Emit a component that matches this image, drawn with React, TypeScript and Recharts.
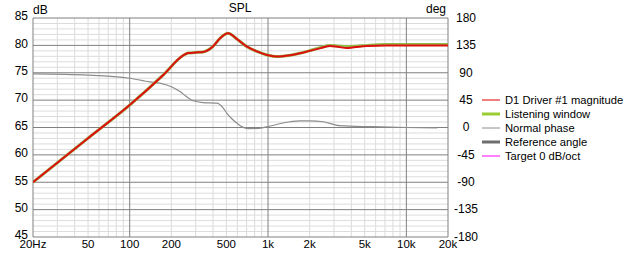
import { LineChart, Line, XAxis, YAxis, ReferenceLine } from "recharts";

const FONT = "'Liberation Sans', Arial, sans-serif";

// frequency axis
const freqTicks = [20, 50, 100, 200, 500, 1000, 2000, 5000, 10000, 20000];
const freqLabels = ["20Hz", "50", "100", "200", "500", "1k", "2k", "5k", "10k", "20k"];
const freqMajor = [20, 100, 1000, 10000, 20000];
const freqMinor = [
  30, 40, 50, 60, 70, 80, 90,
  200, 300, 400, 500, 600, 700, 800, 900,
  2000, 3000, 4000, 5000, 6000, 7000, 8000, 9000,
];

// level / phase axes
const dbTicks = [45, 50, 55, 60, 65, 70, 75, 80, 85];
const dbMinor = [
  46, 47, 48, 49, 51, 52, 53, 54, 56, 57, 58, 59, 61, 62, 63, 64, 66, 67, 68, 69,
  71, 72, 73, 74, 76, 77, 78, 79, 81, 82, 83, 84,
];
const degTicks = [-180, -135, -90, -45, 0, 45, 90, 135, 180];

// D1 Driver #1 magnitude
const magFreq = [20, 50, 100, 175, 245, 265, 300, 340, 400, 450, 514, 600, 700, 830, 1000, 1150, 1450, 1700, 2000, 2400, 2800, 3200, 3700, 4300, 5200, 7000, 10000, 20000];
const magDb = [55, 63.05, 69.1, 74.6, 78.2, 78.6, 78.7, 78.8, 79.8, 81.3, 82.2, 81.1, 79.8, 78.9, 78.2, 77.95, 78.2, 78.55, 79, 79.5, 79.9, 79.75, 79.5, 79.7, 79.9, 80, 80, 80];

// Listening window
const lwFreq = [20, 50, 100, 175, 245, 265, 300, 340, 400, 450, 514, 600, 700, 830, 1000, 1150, 1450, 1700, 2000, 2400, 2800, 3200, 3700, 4300, 5200, 7000, 10000, 20000];
const lwDb = [55, 63.05, 69.1, 74.6, 78.2, 78.6, 78.7, 78.8, 79.8, 81.3, 82.2, 81.1, 79.8, 78.9, 78.2, 77.95, 78.2, 78.55, 79.05, 79.6, 80, 79.9, 79.8, 79.85, 80, 80.15, 80.15, 80.15];

// Normal phase
const phaseFreq = [20, 50, 100, 140, 165, 200, 231, 260, 287, 339, 428, 470, 506, 550, 597, 650, 720, 860, 1035, 1440, 1700, 2000, 2500, 3300, 5700, 10000, 16700];
const phaseDeg = [88, 86, 81, 75, 73, 67, 59, 50, 44, 41, 40, 33, 23, 14, 7, 1, -1.8, -1.5, 2.5, 9.5, 11, 11, 9.5, 3, 1.3, 0, -0.5];

const legendNames = ["D1 Driver #1 magnitude", "Listening window", "Normal phase", "Reference angle", "Target 0 dB/oct"];
const legendColors = ["#e00000", "#9acd32", "#8c8c8c", "#6e6e6e", "#ff00ff"];
const legendWidths = [1, 3, 1, 3, 1];

const magData = magFreq.map((f, i) => ({ f, v: magDb[i] }));
const lwData = lwFreq.map((f, i) => ({ f, v: lwDb[i] }));
const phaseData = phaseFreq.map((f, i) => ({ f, v: phaseDeg[i] }));

const tickStyle = { fontSize: 12, fontFamily: FONT, fill: "#000" };

function FreqTick(props: any) {
  const { x, y, payload } = props;
  return (
    <text x={x} y={y + 11} textAnchor="middle" {...tickStyle} fontSize={11.5}>
      {freqLabels[freqTicks.indexOf(payload.value)] ?? payload.value}
    </text>
  );
}

function DbTick(props: any) {
  const { x, y, payload } = props;
  return (
    <text x={x} y={y - 2} dy="0.355em" textAnchor="end" {...tickStyle}>
      {payload.value}
    </text>
  );
}

function DegTick(props: any) {
  const { x, y, payload } = props;
  return (
    <text x={x + 13} y={y - 0.5} dy="0.355em" textAnchor="middle" {...tickStyle}>
      {payload.value}
    </text>
  );
}

export default function App() {
  return (
    <div style={{ position: "absolute", left: 0, top: 0, width: 631, height: 257, background: "#fff" }}>
      <LineChart width={631} height={257} margin={{ top: 18, right: 143, bottom: 0, left: 0 }}>
        <XAxis
          dataKey="f"
          type="number"
          scale="log"
          domain={[20, 20000]}
          allowDataOverflow
          ticks={freqTicks}
          interval={0}
          tickSize={0}
          tickMargin={0}
          axisLine={false}
          height={20}
          tick={<FreqTick />}
        />
        <YAxis
          yAxisId="db"
          domain={[45, 85]}
          ticks={dbTicks}
          interval={0}
          allowDataOverflow
          width={33}
          tickSize={0}
          tickMargin={5}
          axisLine={false}
          tick={<DbTick />}
        />
        <YAxis
          yAxisId="deg"
          orientation="right"
          domain={[-180, 180]}
          ticks={degTicks}
          interval={0}
          allowDataOverflow
          width={40}
          tickSize={0}
          tickMargin={5}
          axisLine={false}
          tick={<DegTick />}
        />
        {dbMinor.map((v) => (
          <ReferenceLine key={"hm" + v} yAxisId="db" y={v} stroke="#dcdcdc" strokeWidth={1} />
        ))}
        {freqMinor.map((v) => (
          <ReferenceLine key={"vm" + v} yAxisId="db" x={v} stroke="#dcdcdc" strokeWidth={1} />
        ))}
        {dbTicks.map((v) => (
          <ReferenceLine key={"hM" + v} yAxisId="db" y={v} stroke="#808080" strokeWidth={1} />
        ))}
        {freqMajor.map((v) => (
          <ReferenceLine key={"vM" + v} yAxisId="db" x={v} stroke="#808080" strokeWidth={1} />
        ))}
        <Line
          yAxisId="deg"
          data={phaseData}
          dataKey="v"
          type="monotone"
          stroke="#8c8c8c"
          strokeWidth={1.2}
          dot={false}
          isAnimationActive={false}
        />
        <Line
          yAxisId="db"
          data={lwData}
          dataKey="v"
          type="monotone"
          stroke="#94b84a"
          strokeWidth={3}
          dot={false}
          isAnimationActive={false}
        />
        <Line
          yAxisId="db"
          data={magData}
          dataKey="v"
          type="monotone"
          stroke="#dd1010"
          strokeWidth={2}
          dot={false}
          isAnimationActive={false}
        />
      </LineChart>
      <svg
        width={631}
        height={257}
        style={{ position: "absolute", left: 0, top: 0, pointerEvents: "none" }}
      >
        <text x={33} y={14} fontSize={12} fontFamily={FONT} fill="#000">dB</text>
        <text x={240} y={12} fontSize={12} fontFamily={FONT} fill="#000" textAnchor="middle">SPL</text>
        <text x={446} y={13} fontSize={12} fontFamily={FONT} fill="#000" textAnchor="end">deg</text>
        {legendNames.map((name, i) => {
          const cy = 100 + i * 14;
          return (
            <g key={name}>
              <line x1={482} x2={500} y1={cy} y2={cy} stroke={legendColors[i]} strokeWidth={legendWidths[i]} />
              <text x={505} y={cy + 4} fontSize={11.2} fontFamily={FONT} fill="#000">{name}</text>
            </g>
          );
        })}
      </svg>
    </div>
  );
}
